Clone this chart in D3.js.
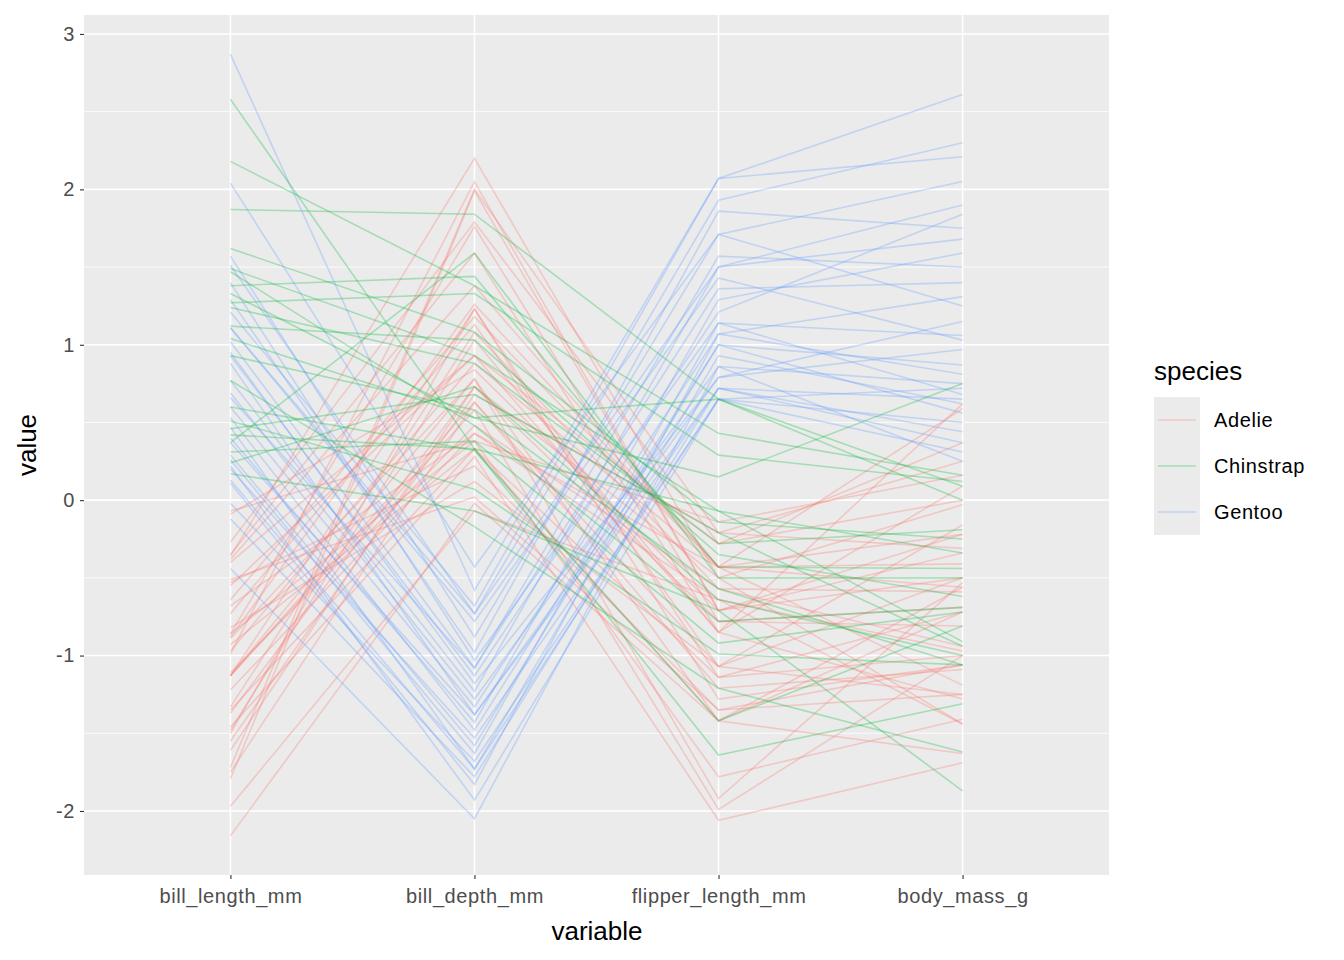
<!DOCTYPE html>
<html lang="en">
  <head>
    <meta charset="utf-8" />
    <title>Penguins parallel coordinates</title>
    <style>
      body { margin: 0; background: #fff; font-family: "Liberation Sans", Arial, sans-serif; }
    </style>
  </head>
  <body>
    <svg width="1344" height="960"></svg>
    <script src="https://d3js.org/d3.v7.min.js"></script>
    <script>
      // standardized values: bill_length, bill_depth, flipper_length, body_mass
      const variables = ["bill_length_mm", "bill_depth_mm", "flipper_length_mm", "body_mass_g"];
      const speciesNames = ["Adelie", "Chinstrap", "Gentoo"];
      const speciesColors = ["#F8766D", "#00BA38", "#619CFF"];
      const yTicks = [-2, -1, 0, 1, 2, 3];

      const adelie = [
        [-0.89, 0.78, -1.42, -0.56], [-0.82, 0.12, -1.07, -0.5], [-0.68, 0.43, -0.43, -1.19],
        [-1.33, 1.08, -0.57, -0.94], [-0.86, 1.76, -0.78, -0.69], [-0.93, 0.33, -1.42, -0.72],
        [-0.88, 1.26, -0.43, 0.59], [-0.53, 0.22, -1.35, -1.25], [-0.99, 2.05, -0.71, -0.5],
        [-1.72, 2.0, -0.21, 0.25], [-1.35, 0.33, -1.14, -1.0], [-0.97, 0.88, -0.43, -0.56],
        [-0.27, 1.79, -0.28, 0.37], [-1.75, 0.63, -1.21, -1.09], [-0.36, 2.2, -0.5, -0.03],
        [-1.13, 0.58, -1.99, -1.0], [-1.13, 0.78, -1.92, -0.53], [-1.48, 1.03, -0.85, -1.28],
        [-0.86, 0.38, -1.78, -1.41], [-1.79, 1.99, -0.71, -0.22], [-0.35, 1.59, -0.85, 0.62],
        [-1.13, 0.63, -1.07, -1.25], [-0.73, 1.13, -1.07, -0.16], [-1.37, 0.73, -0.5, -1.44],
        [-0.38, 1.38, -0.43, -0.41], [-1.13, 1.23, -1.28, -1.06], [-1.11, 0.48, -0.57, -0.59],
        [-0.51, 0.02, -1.35, -1.06], [-1.97, -0.07, -0.64, -1.44], [-2.16, -0.02, -1.42, -1.63],
        [-0.55, 0.93, -0.28, 0.0], [-1.61, 0.73, -0.78, -0.81], [-1.46, 0.28, -2.06, -1.69],
        [-0.64, 1.18, -0.43, -0.22], [-1.22, 0.43, -0.64, -0.97], [-0.07, 0.38, -0.14, 0.16],
        [-0.4, 0.93, -0.85, 0.09], [-1.55, 0.68, -0.21, -0.31], [-0.09, 0.84, -0.71, -0.34],
        [-1.5, 1.23, -1.14, -0.72]
      ];
      const chinstrap = [
        [0.6, 0.32, -1.42, -0.81], [1.38, 1.44, -0.43, -0.44], [1.47, 0.48, -0.78, -0.69],
        [0.37, 1.59, -0.5, -0.5], [0.42, 0.33, -1.64, -1.31], [1.24, 0.88, -0.28, -0.19],
        [1.87, 1.84, 0.65, 0.0], [0.46, 0.68, -0.21, -0.94], [1.27, 1.33, 0.29, 0.12],
        [0.51, 0.07, -0.99, -1.06], [2.58, 0.33, -0.07, -0.91], [1.04, 0.53, 0.15, 0.75],
        [0.17, -0.07, -0.71, -1.87], [1.12, 1.03, -0.35, -0.62], [0.93, 0.58, -0.57, -1.06],
        [2.18, 1.38, 0.43, 0.16], [0.31, 0.38, -0.92, -0.72], [1.49, 0.93, -0.07, -0.34],
        [0.77, -0.17, -1.21, -1.62], [1.62, 1.08, -0.14, -0.25], [0.24, 0.73, -0.64, -1.0],
        [1.33, 0.53, 0.65, 0.09]
      ];
      const gentoo = [
        [0.22, -1.93, 0.65, 0.72], [1.11, -0.73, 1.5, 1.9], [0.88, -1.38, 0.72, 0.65],
        [1.11, -0.78, 1.43, 1.03], [0.69, -1.28, 0.86, 0.75], [0.47, -1.73, 0.65, 0.5],
        [0.37, -1.38, 0.79, 0.97], [1.21, -0.68, 2.07, 2.21], [0.29, -1.58, 1.0, 0.56],
        [2.87, -0.58, 2.07, 2.61], [0.2, -1.53, 0.72, 0.37], [0.66, -1.08, 1.36, 1.4],
        [1.51, -0.73, 1.93, 2.3], [0.11, -1.83, 1.07, 0.81], [0.93, -1.13, 1.21, 1.84],
        [-0.02, -1.68, 0.65, 0.31], [2.04, -0.43, 1.71, 1.25], [0.4, -1.43, 1.29, 1.59],
        [1.4, -1.03, 1.14, 1.06], [-0.44, -2.05, 0.86, 0.25], [0.77, -1.23, 1.5, 1.68],
        [0.53, -1.48, 1.0, 0.87], [1.57, -0.88, 1.71, 2.05], [0.13, -1.73, 0.93, 0.62],
        [1.02, -1.08, 1.57, 1.5], [0.95, -1.18, 0.79, 1.15], [0.26, -1.63, 1.14, 0.68],
        [1.29, -0.98, 1.86, 1.75], [0.6, -1.33, 1.07, 1.31], [-0.12, -1.78, 0.72, 0.44]
      ];

      const panel = { left: 84, right: 1109, top: 15, bottom: 875 };
      const svg = d3.select("svg");

      const x = d3.scalePoint().domain(variables).range([panel.left, panel.right]).padding(0.6);
      const y = d3.scaleLinear().domain([-2.412, 3.122]).range([panel.bottom, panel.top]);
      const color = d3.scaleOrdinal().domain(speciesNames).range(speciesColors);

      svg.append("rect")
        .attr("x", panel.left).attr("y", panel.top)
        .attr("width", panel.right - panel.left).attr("height", panel.bottom - panel.top)
        .attr("fill", "#EBEBEB");

      const grid = svg.append("g");
      const minor = d3.range(-2.5, 3.5, 1).filter((v) => y(v) >= panel.top && y(v) <= panel.bottom);
      grid.selectAll(".minor").data(minor).join("line")
        .attr("x1", panel.left).attr("x2", panel.right)
        .attr("y1", (d) => y(d)).attr("y2", (d) => y(d))
        .attr("stroke", "#fff").attr("stroke-width", 0.8);
      grid.selectAll(".major").data(yTicks).join("line")
        .attr("x1", panel.left).attr("x2", panel.right)
        .attr("y1", (d) => y(d)).attr("y2", (d) => y(d))
        .attr("stroke", "#fff").attr("stroke-width", 1.6);
      grid.selectAll(".vmajor").data(variables).join("line")
        .attr("x1", (d) => x(d)).attr("x2", (d) => x(d))
        .attr("y1", panel.top).attr("y2", panel.bottom)
        .attr("stroke", "#fff").attr("stroke-width", 1.6);

      const rows = [];
      adelie.forEach((v) => rows.push({ species: "Adelie", v }));
      gentoo.forEach((v) => rows.push({ species: "Gentoo", v }));
      chinstrap.forEach((v) => rows.push({ species: "Chinstrap", v }));

      const line = d3.line().x((d, i) => x(variables[i])).y((d) => y(d));
      svg.append("g").selectAll("path").data(rows).join("path")
        .attr("d", (d) => line(d.v))
        .attr("fill", "none")
        .attr("stroke", (d) => color(d.species))
        .attr("stroke-opacity", 0.3)
        .attr("stroke-width", 1.6);

      // axes
      const yAxis = svg.append("g").attr("transform", `translate(${panel.left},0)`)
        .call(d3.axisLeft(y).tickValues(yTicks).tickFormat((d) => String(d)).tickSize(4).tickPadding(5));
      const xAxis = svg.append("g").attr("transform", `translate(0,${panel.bottom})`)
        .call(d3.axisBottom(x).tickSize(4).tickPadding(4));
      [yAxis, xAxis].forEach((a) => {
        a.select(".domain").remove();
        a.selectAll(".tick line").attr("stroke", "#333").attr("stroke-width", 1.1);
        a.selectAll("text").attr("fill", "#4D4D4D").attr("font-size", 20)
          .attr("letter-spacing", 0.6)
          .attr("font-family", "Liberation Sans, Arial, sans-serif");
      });
      xAxis.selectAll("text").attr("dy", "1em");

      svg.append("text").attr("x", 597).attr("y", 940).attr("text-anchor", "middle")
        .attr("font-size", 26).text("variable");
      svg.append("text").attr("transform", "translate(36,445) rotate(-90)")
        .attr("text-anchor", "middle").attr("font-size", 26).text("value");

      // legend
      const legend = svg.append("g").attr("transform", "translate(1154,0)");
      legend.append("text").attr("x", 0).attr("y", 380).attr("font-size", 26).text("species");
      const key = legend.selectAll("g").data(speciesNames).join("g")
        .attr("transform", (d, i) => `translate(0,${397 + i * 46})`);
      key.append("rect").attr("width", 46).attr("height", 46).attr("fill", "#EBEBEB");
      key.append("line").attr("x1", 4).attr("x2", 42).attr("y1", 23).attr("y2", 23)
        .attr("stroke", (d) => color(d)).attr("stroke-opacity", 0.3).attr("stroke-width", 1.6);
      key.append("text").attr("x", 60).attr("y", 30).attr("font-size", 20)
        .attr("letter-spacing", 0.6).text((d) => d);
    </script>
  </body>
</html>
